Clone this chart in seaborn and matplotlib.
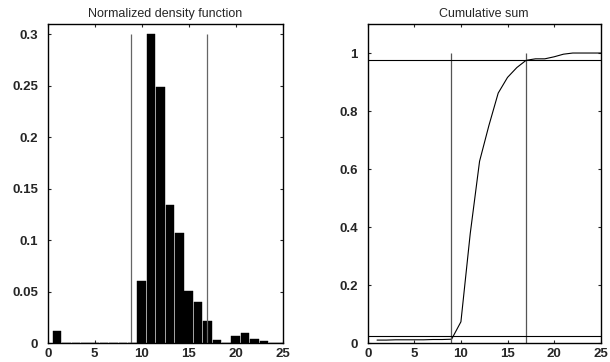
import numpy as np
import pandas as pd
import matplotlib
matplotlib.use("Agg")
import matplotlib.pyplot as plt
import seaborn as sns

# ---- data ----
bins = [1, 2, 3, 4, 5, 6, 7, 8, 9, 10, 11, 12, 13, 14, 15, 16, 17, 18, 19, 20, 21, 22, 23, 24, 25]
density = [0.012, 0, 0, 0, 0, 0, 0, 0, 0, 0.060, 0.300, 0.249, 0.134, 0.107, 0.051,
           0.040, 0.022, 0.003, 0, 0.007, 0.010, 0.004, 0.002, 0, 0]
cumulative = [0.011, 0.011, 0.012, 0.012, 0.012, 0.012, 0.013, 0.013, 0.014, 0.074, 0.378, 0.627,
              0.750, 0.862, 0.916, 0.950, 0.975, 0.980, 0.980, 0.987, 0.996, 1.0, 1.0, 1.0, 1.0]
lower_bound = 8.9
upper_bound = 16.95
lower_level = 0.025
upper_level = 0.975

titles = ["Normalized density function", "Cumulative sum"]
x_ticks = [0, 5, 10, 15, 20, 25]
left_yticks = [0, 0.05, 0.1, 0.15, 0.2, 0.25, 0.3]
left_ylabels = ["0", "0.05", "0.1", "0.15", "0.2", "0.25", "0.3"]
right_yticks = [0, 0.2, 0.4, 0.6, 0.8, 1.0]
right_ylabels = ["0", "0.2", "0.4", "0.6", "0.8", "1"]

sns.set_style("ticks")
plt.rcParams["font.family"] = ["Liberation Sans", "DejaVu Sans"]
plt.rcParams.update({
    "xtick.direction": "in", "ytick.direction": "in",
    "xtick.top": True, "ytick.right": True,
    "xtick.major.size": 2.5, "ytick.major.size": 2.5,
    "xtick.major.width": 0.8, "ytick.major.width": 0.8,
    "axes.linewidth": 1.0, "axes.edgecolor": "black",
})

fig = plt.figure(figsize=(6.10, 3.62), dpi=100)
ax1 = fig.add_axes([0.0782, 0.0517, 0.3852, 0.882])
ax2 = fig.add_axes([0.6028, 0.0517, 0.3820, 0.882])

df = pd.DataFrame({"bin": bins, "density": density, "cumulative": cumulative})

# left: bars
sns.barplot(data=df, x="bin", y="density", native_scale=True, color="black",
            width=0.9, saturation=1, edgecolor="black", linewidth=0.3, ax=ax1)
ax1.vlines([lower_bound, upper_bound], 0, 0.3, colors="#666666", linewidth=0.9)
ax1.set_xlim(0, 25)
ax1.set_ylim(0, 0.31)
ax1.set_yticks(left_yticks)
ax1.set_yticklabels(left_ylabels)

# right: cumulative curve
sns.lineplot(data=df, x="bin", y="cumulative", color="black", linewidth=0.8, ax=ax2)
ax2.vlines([lower_bound, upper_bound], 0, 1.0, colors="#555555", linewidth=0.9)
ax2.axhline(lower_level, color="black", linewidth=0.8)
ax2.axhline(upper_level, color="black", linewidth=0.8)
ax2.set_xlim(0, 25)
ax2.set_ylim(0, 1.1)
ax2.set_yticks(right_yticks)
ax2.set_yticklabels(right_ylabels)

for ax, t in zip([ax1, ax2], titles):
    ax.set_xticks(x_ticks)
    ax.set_xticklabels([str(v) for v in x_ticks])
    ax.set_xlabel("")
    ax.set_ylabel("")
    ax.set_title(t, fontsize=9, pad=5)
    ax.tick_params(axis="x", labelsize=9.5, pad=3.5)
    ax.tick_params(axis="y", labelsize=9.5, pad=7)
    for lab in ax.get_xticklabels() + ax.get_yticklabels():
        lab.set_fontweight("bold")
    for s in ax.spines.values():
        s.set_visible(True)
        s.set_color("black")

fig.savefig("out.png", dpi=100)
